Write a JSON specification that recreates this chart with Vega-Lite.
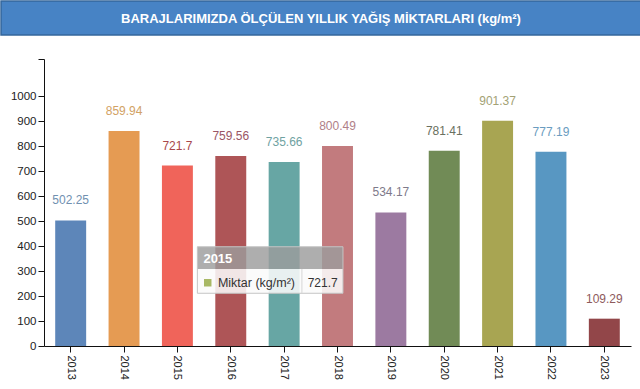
{
  "$schema": "https://vega.github.io/schema/vega-lite/v6.json",
  "padding": 0,
  "spacing": 17,
  "background": "white",
  "config": {"font": "Liberation Sans", "view": {"stroke": null}, "axisY": {"labelOverlap": false}},
  "datasets": {
    "rain": [
      {"year": "2013", "value": 502.25},
      {"year": "2014", "value": 859.94},
      {"year": "2015", "value": 721.7},
      {"year": "2016", "value": 759.56},
      {"year": "2017", "value": 735.66},
      {"year": "2018", "value": 800.49},
      {"year": "2019", "value": 534.17},
      {"year": "2020", "value": 781.41},
      {"year": "2021", "value": 901.37},
      {"year": "2022", "value": 777.19},
      {"year": "2023", "value": 109.29}
    ],
    "tip": [{"year": "2015", "label": "Miktar (kg/m²)", "value": 721.7}],
    "head": [{"t": "BARAJLARIMIZDA ÖLÇÜLEN YILLIK YAĞIŞ MİKTARLARI (kg/m²)"}]
  },
  "vconcat": [
    {
      "width": 640,
      "height": 34,
      "view": {"fill": "#4783c5", "stroke": "#35679c", "strokeWidth": 1.5},
      "data": {"name": "head"},
      "mark": {"type": "text", "color": "white", "fontSize": 13, "fontWeight": "bold", "baseline": "middle", "dy": 1},
      "encoding": {"text": {"field": "t", "type": "nominal"}}
    },
    {
      "width": 630,
      "height": 287,
      "data": {"name": "rain"},
      "layer": [
        {
          "mark": {"type": "bar"},
          "encoding": {
            "x": {
              "field": "year", "type": "nominal",
              "scale": {"range": [43, 630], "paddingInner": 0.42, "paddingOuter": 0.21},
              "axis": {"title": null, "labelAngle": 90, "labelFontSize": 11, "labelColor": "#222", "tickSize": 6, "tickColor": "#111", "domainColor": "#111", "labelPadding": 3}
            },
            "y": {
              "field": "value", "type": "quantitative",
              "scale": {"domain": [0, 1148], "nice": false},
              "axis": {"title": null, "grid": false, "format": "d", "offset": -43, "labelOverlap": false, "values": [0, 100, 200, 300, 400, 500, 600, 700, 800, 900, 1000, 1148], "labelExpr": "datum.value > 1000 ? '' : datum.label", "labelFontSize": 11.5, "labelColor": "#222", "tickSize": 6, "tickColor": "#111", "domainColor": "#111", "labelPadding": 2, "minExtent": 0}
            },
            "color": {
              "field": "year", "type": "nominal", "legend": null,
              "scale": {"range": ["#5d86b9", "#e59b53", "#f0645a", "#ae5557", "#67a6a4", "#c27b7e", "#9c7aa1", "#718b56", "#a8a552", "#5897c2", "#924649"]}
            }
          }
        },
        {
          "mark": {"type": "text", "dy": -20, "baseline": "middle", "fontSize": 12},
          "encoding": {
            "x": {"field": "year", "type": "nominal"},
            "y": {"field": "value", "type": "quantitative",
              "axis": {"title": null, "grid": false, "format": "d", "offset": -43, "labelOverlap": false, "values": [0, 100, 200, 300, 400, 500, 600, 700, 800, 900, 1000, 1148], "labelExpr": "datum.value > 1000 ? '' : datum.label", "labelFontSize": 11.5, "labelColor": "#222", "tickSize": 6, "tickColor": "#111", "domainColor": "#111", "labelPadding": 2, "minExtent": 0}},
            "text": {"field": "value", "type": "quantitative"},
            "color": {
              "field": "year", "type": "nominal", "legend": null,
              "scale": {"range": ["#7090b0", "#d2a265", "#a8474b", "#9a5565", "#6fa2a2", "#b08088", "#7e7a8a", "#6a7060", "#a3a274", "#6a9cc0", "#8e5a5c"]}
            }
          }
        },
        {
          "data": {"name": "tip"},
          "layer": [
            {
              "mark": {"type": "rect", "fill": "#9c9c9c", "fillOpacity": 0.82},
              "encoding": {
                "x": {"datum": "2015", "type": "nominal", "bandPosition": 1.145},
                "x2": {"datum": "2018", "bandPosition": 0.677},
                "y": {"datum": 397, "type": "quantitative",
                  "axis": {"title": null, "grid": false, "format": "d", "offset": -43, "labelOverlap": false, "values": [0, 100, 200, 300, 400, 500, 600, 700, 800, 900, 1000, 1148], "labelExpr": "datum.value > 1000 ? '' : datum.label", "labelFontSize": 11.5, "labelColor": "#222", "tickSize": 6, "tickColor": "#111", "domainColor": "#111", "labelPadding": 2, "minExtent": 0}},
                "y2": {"datum": 308}
              }
            },
            {
              "mark": {"type": "rect", "fill": "#fafafa", "fillOpacity": 0.88},
              "encoding": {
                "x": {"datum": "2015", "type": "nominal", "bandPosition": 1.145},
                "x2": {"datum": "2018", "bandPosition": 0.677},
                "y": {"datum": 308, "type": "quantitative",
                  "axis": {"title": null, "grid": false, "format": "d", "offset": -43, "labelOverlap": false, "values": [0, 100, 200, 300, 400, 500, 600, 700, 800, 900, 1000, 1148], "labelExpr": "datum.value > 1000 ? '' : datum.label", "labelFontSize": 11.5, "labelColor": "#222", "tickSize": 6, "tickColor": "#111", "domainColor": "#111", "labelPadding": 2, "minExtent": 0}},
                "y2": {"datum": 211}
              }
            },
            {
              "mark": {"type": "rect", "fillOpacity": 0, "stroke": "#c4c4c4", "strokeWidth": 1},
              "encoding": {
                "x": {"datum": "2015", "type": "nominal", "bandPosition": 1.145},
                "x2": {"datum": "2018", "bandPosition": 0.677},
                "y": {"datum": 397, "type": "quantitative",
                  "axis": {"title": null, "grid": false, "format": "d", "offset": -43, "labelOverlap": false, "values": [0, 100, 200, 300, 400, 500, 600, 700, 800, 900, 1000, 1148], "labelExpr": "datum.value > 1000 ? '' : datum.label", "labelFontSize": 11.5, "labelColor": "#222", "tickSize": 6, "tickColor": "#111", "domainColor": "#111", "labelPadding": 2, "minExtent": 0}},
                "y2": {"datum": 211}
              }
            },
            {
              "mark": {"type": "rule", "color": "#d6d6d6", "strokeWidth": 1},
              "encoding": {
                "x": {"datum": "2017", "type": "nominal", "bandPosition": 1.074},
                "y": {"datum": 308, "type": "quantitative",
                  "axis": {"title": null, "grid": false, "format": "d", "offset": -43, "labelOverlap": false, "values": [0, 100, 200, 300, 400, 500, 600, 700, 800, 900, 1000, 1148], "labelExpr": "datum.value > 1000 ? '' : datum.label", "labelFontSize": 11.5, "labelColor": "#222", "tickSize": 6, "tickColor": "#111", "domainColor": "#111", "labelPadding": 2, "minExtent": 0}},
                "y2": {"datum": 211}
              }
            },
            {
              "mark": {"type": "text", "align": "left", "baseline": "alphabetic", "fontSize": 13, "fontWeight": "bold", "color": "white"},
              "encoding": {
                "x": {"datum": "2015", "type": "nominal", "bandPosition": 1.34},
                "y": {"datum": 331, "type": "quantitative",
                  "axis": {"title": null, "grid": false, "format": "d", "offset": -43, "labelOverlap": false, "values": [0, 100, 200, 300, 400, 500, 600, 700, 800, 900, 1000, 1148], "labelExpr": "datum.value > 1000 ? '' : datum.label", "labelFontSize": 11.5, "labelColor": "#222", "tickSize": 6, "tickColor": "#111", "domainColor": "#111", "labelPadding": 2, "minExtent": 0}},
                "text": {"field": "year", "type": "nominal"}
              }
            },
            {
              "mark": {"type": "point", "shape": "square", "filled": true, "size": 56, "color": "#a8b865", "opacity": 1},
              "encoding": {
                "x": {"datum": "2015", "type": "nominal", "bandPosition": 1.48},
                "y": {"datum": 253, "type": "quantitative",
                  "axis": {"title": null, "grid": false, "format": "d", "offset": -43, "labelOverlap": false, "values": [0, 100, 200, 300, 400, 500, 600, 700, 800, 900, 1000, 1148], "labelExpr": "datum.value > 1000 ? '' : datum.label", "labelFontSize": 11.5, "labelColor": "#222", "tickSize": 6, "tickColor": "#111", "domainColor": "#111", "labelPadding": 2, "minExtent": 0}}
              }
            },
            {
              "mark": {"type": "text", "align": "left", "baseline": "middle", "fontSize": 12.5, "color": "#333"},
              "encoding": {
                "x": {"datum": "2016", "type": "nominal", "bandPosition": 0.084},
                "y": {"datum": 252, "type": "quantitative",
                  "axis": {"title": null, "grid": false, "format": "d", "offset": -43, "labelOverlap": false, "values": [0, 100, 200, 300, 400, 500, 600, 700, 800, 900, 1000, 1148], "labelExpr": "datum.value > 1000 ? '' : datum.label", "labelFontSize": 11.5, "labelColor": "#222", "tickSize": 6, "tickColor": "#111", "domainColor": "#111", "labelPadding": 2, "minExtent": 0}},
                "text": {"field": "label", "type": "nominal"}
              }
            },
            {
              "mark": {"type": "text", "align": "left", "baseline": "middle", "fontSize": 12, "color": "#333"},
              "encoding": {
                "x": {"datum": "2017", "type": "nominal", "bandPosition": 1.26},
                "y": {"datum": 252, "type": "quantitative",
                  "axis": {"title": null, "grid": false, "format": "d", "offset": -43, "labelOverlap": false, "values": [0, 100, 200, 300, 400, 500, 600, 700, 800, 900, 1000, 1148], "labelExpr": "datum.value > 1000 ? '' : datum.label", "labelFontSize": 11.5, "labelColor": "#222", "tickSize": 6, "tickColor": "#111", "domainColor": "#111", "labelPadding": 2, "minExtent": 0}},
                "text": {"field": "value", "type": "quantitative"}
              }
            }
          ]
        }
      ],
      "resolve": {"scale": {"color": "independent"}}
    }
  ]
}
